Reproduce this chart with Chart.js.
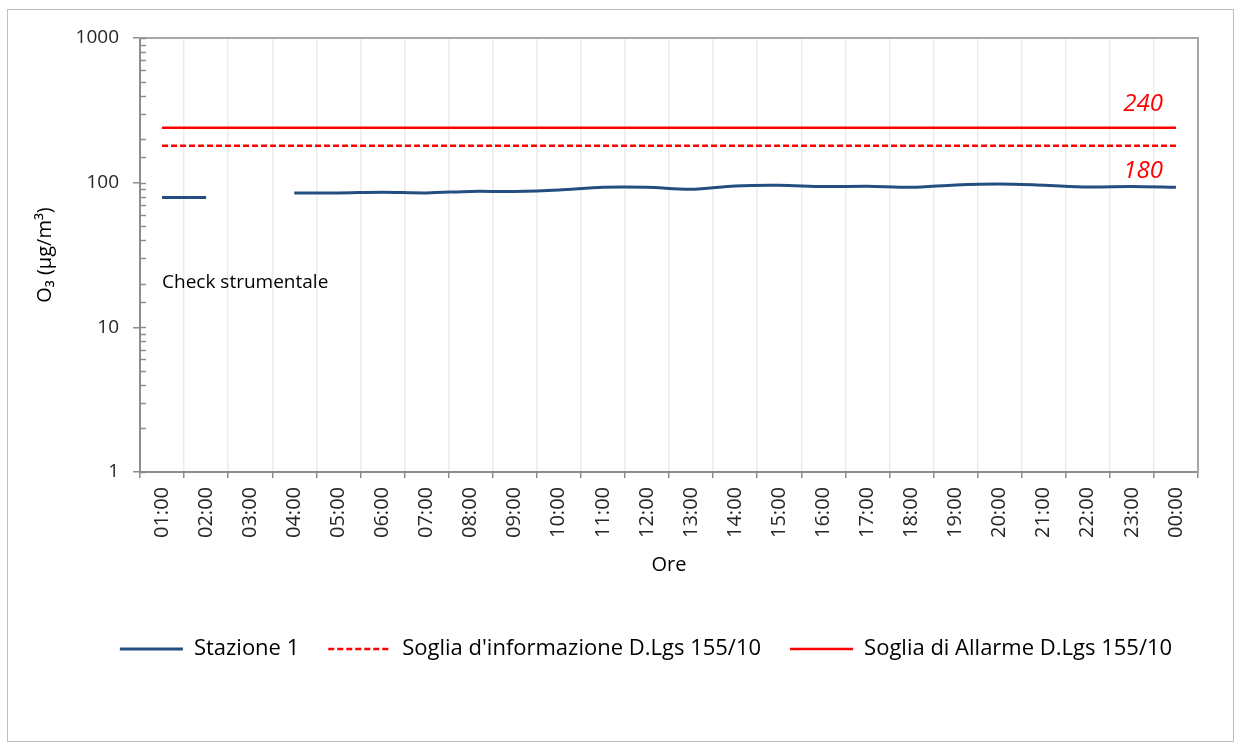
<!DOCTYPE html>
<html>
<head>
<meta charset="utf-8">
<script src="https://cdn.jsdelivr.net/npm/chart.js@4.4.1/dist/chart.umd.min.js"></script>
<style>
  html, body { margin: 0; padding: 0; background: #fff; }
  #frame { position: absolute; left: 7px; top: 9px; width: 1225px; height: 731px; border: 1px solid #bfbfbf; }
  #chart { position: absolute; left: 0; top: 0; }
</style>
</head>
<body>
<div id="frame"></div>
<canvas id="chart" width="1234" height="742"></canvas>
<script>
// Ozone hourly values, log scale
const ore = ['01:00', '02:00', '03:00', '04:00', '05:00', '06:00', '07:00', '08:00', '09:00', '10:00', '11:00', '12:00',
             '13:00', '14:00', '15:00', '16:00', '17:00', '18:00', '19:00', '20:00', '21:00', '22:00', '23:00', '00:00'];
const stazione1 = [79, 79, null, 85, 85, 86, 85, 87, 87, 89, 93, 93,
                   90, 95, 96, 94, 94.5, 93, 96.5, 98, 96, 93.5, 94, 93];
const sogliaInformazione = [180, 180, 180, 180, 180, 180, 180, 180, 180, 180, 180, 180,
                            180, 180, 180, 180, 180, 180, 180, 180, 180, 180, 180, 180];
const sogliaAllarme = [240, 240, 240, 240, 240, 240, 240, 240, 240, 240, 240, 240,
                       240, 240, 240, 240, 240, 240, 240, 240, 240, 240, 240, 240];
const yTickLabels = [1, 10, 100, 1000];
const noteText = 'Check strumentale';
const noteValue = 20.5;

Chart.defaults.font.family = '"Open Sans", sans-serif';
Chart.defaults.color = '#000';

const axisGray = '#8c8c8c';

// minor ticks inside the plot, threshold numbers, note
const extras = {
    id: 'extras',
    afterDraw(chart) {
        const {ctx, chartArea, scales: {x, y}} = chart;
        ctx.save();
        ctx.strokeStyle = axisGray;
        ctx.lineWidth = 1.5;
        y.ticks.forEach(t => {
            const py = Math.round(y.getPixelForValue(t.value)) + 0.5;
            ctx.beginPath();
            ctx.moveTo(chartArea.left, py);
            ctx.lineTo(chartArea.left + 6, py);
            ctx.stroke();
        });
        ctx.fillStyle = '#ff0000';
        ctx.font = 'italic 24px "Open Sans"';
        ctx.textAlign = 'right';
        ctx.textBaseline = 'middle';
        const lx = x.getPixelForValue(ore.length - 1) - 13;
        ctx.fillText(String(sogliaAllarme[0]), lx, y.getPixelForValue(sogliaAllarme[0]) - 24);
        ctx.fillText(String(sogliaInformazione[0]), lx, y.getPixelForValue(sogliaInformazione[0]) + 25);
        ctx.fillStyle = '#000';
        ctx.font = '19px "Open Sans"';
        ctx.textAlign = 'left';
        ctx.fillText(noteText, x.getPixelForValue(0), y.getPixelForValue(noteValue));
        ctx.restore();
    }
};

new Chart(document.getElementById('chart').getContext('2d'), {
    type: 'line',
    data: {
        labels: ore,
        datasets: [
            { label: 'Stazione 1', data: stazione1, borderColor: '#254e80', backgroundColor: '#254e80',
              borderWidth: 3, pointRadius: 0, tension: 0.3, spanGaps: false },
            { label: "Soglia d'informazione D.Lgs 155/10", data: sogliaInformazione, borderColor: '#ff0000',
              backgroundColor: '#ff0000', borderWidth: 2.5, borderDash: [6, 3], pointRadius: 0 },
            { label: 'Soglia di Allarme D.Lgs 155/10', data: sogliaAllarme, borderColor: '#ff0000',
              backgroundColor: '#ff0000', borderWidth: 2.5, pointRadius: 0 }
        ]
    },
    options: {
        responsive: false,
        animation: false,
        devicePixelRatio: 1,
        layout: { autoPadding: false, padding: { left: 58, right: 0, top: 0, bottom: 72 } },
        plugins: {
            tooltip: { enabled: false },
            legend: {
                position: 'bottom',
                labels: {
                    usePointStyle: true,
                    pointStyleWidth: 63,
                    padding: 29,
                    color: '#000',
                    font: { size: 22 },
                    generateLabels: chart => chart.data.datasets.map((ds, i) => ({
                        text: ds.label,
                        strokeStyle: ds.borderColor,
                        fillStyle: ds.borderColor,
                        lineWidth: ds.borderWidth,
                        lineDash: ds.borderDash || [],
                        pointStyle: 'line',
                        datasetIndex: i,
                        hidden: false
                    }))
                }
            }
        },
        scales: {
            x: {
                offset: true,
                grid: { offset: true, color: '#ebebeb', lineWidth: 1.5, tickColor: axisGray, tickLength: 6 },
                border: { color: axisGray, width: 2 },
                ticks: { minRotation: 90, maxRotation: 90, autoSkip: false, padding: 9, color: '#262626', font: { size: 20 } },
                title: { display: true, text: 'Ore', color: '#000', font: { size: 20 }, padding: { top: 0, bottom: 32 } },
                afterFit: scale => { scale.height = 137; }
            },
            y: {
                type: 'logarithmic',
                min: 1,
                max: 1000,
                grid: {
                    drawOnChartArea: false,
                    tickLength: 7,
                    lineWidth: 1.5,
                    tickColor: c => (c.tick && yTickLabels.includes(c.tick.value)) ? axisGray : 'rgba(0,0,0,0)'
                },
                border: { color: axisGray, width: 2 },
                ticks: {
                    autoSkip: false,
                    padding: 14,
                    color: '#262626',
                    font: { size: 19 },
                    callback: v => yTickLabels.includes(v) ? String(v) : ''
                },
                title: { display: true, text: 'O₃ (µg/m³)', color: '#000', font: { size: 20 }, padding: { top: -25, bottom: 0 } },
                afterFit: scale => { scale.width = 82; }
            },
            xTop: {
                axis: 'x',
                position: 'top',
                type: 'linear',
                grid: { display: false },
                ticks: { display: false },
                border: { color: '#a6a6a6', width: 2 },
                afterFit: scale => { scale.height = 38; }
            },
            yRight: {
                axis: 'y',
                position: 'right',
                type: 'linear',
                grid: { display: false },
                ticks: { display: false },
                border: { color: '#a6a6a6', width: 2 },
                afterFit: scale => { scale.width = 36; }
            }
        }
    },
    plugins: [extras]
});
</script>
</body>
</html>
